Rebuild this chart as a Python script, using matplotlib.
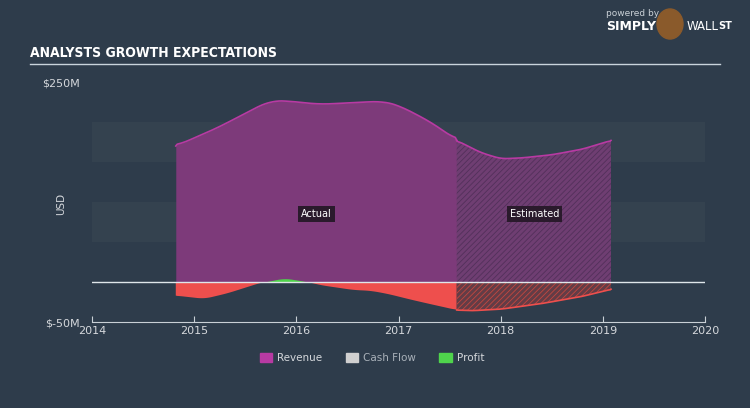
import matplotlib.pyplot as plt
from matplotlib.patches import Patch, Ellipse
import numpy as np

# revenue, USD millions (actual up to mid-2017, then analyst estimates)
rev_years = [2014.82, 2015.0, 2015.25, 2015.5, 2015.75, 2015.94, 2016.23, 2016.52,
             2016.85, 2017.0, 2017.33, 2017.57]
rev_vals = [170, 180, 194, 211, 227, 226, 222, 224, 226, 221, 199, 177]
rev_est_years = [2017.57, 2017.8, 2018.0, 2018.2, 2018.5, 2018.8, 2019.08]
rev_est_vals = [177, 162, 154, 155, 159, 166, 177]

# profit, USD millions
prof_years = [2014.82, 2015.1, 2015.33, 2015.65, 2015.88, 2016.08, 2016.24, 2016.4,
              2016.56, 2016.73, 2016.9, 2017.12, 2017.29, 2017.57]
prof_vals = [-17, -21, -14, -1, 5, 1, -4, -7, -10, -11, -15, -22, -27, -35]
prof_est_years = [2017.57, 2017.7, 2018.0, 2018.4, 2018.8, 2019.08]
prof_est_vals = [-35, -36, -34, -27, -18, -9]

bg = '#2e3c4b'
band = '#34424f'
purple = '#7d3a7a'
magenta = '#b83aa3'
red = '#ee4f4d'
green = '#4fd44c'
txt = '#d5d8dc'


def smooth(xs, ys, k=9, n=200):
    xs = np.array(xs, float)
    ys = np.array(ys, float)
    t = np.linspace(xs[0], xs[-1], n)
    y = np.interp(t, xs, ys)
    pad = np.pad(y, k, mode='edge')
    y = np.convolve(pad, np.ones(2 * k + 1) / (2 * k + 1), mode='same')[k:-k]
    y[0], y[-1] = ys[0], ys[-1]
    return t, y


plt.rcParams['hatch.linewidth'] = 0.6

fig = plt.figure(figsize=(7.5, 4.08), dpi=100, facecolor=bg)
ax = fig.add_axes([92 / 750, 1 - 322 / 408, 613 / 750, 240 / 408])
ax.set_facecolor(bg)
ax.set_xlim(2014, 2020)
ax.set_ylim(-50, 250)

for lo, hi in [(50, 100), (150, 200)]:
    ax.axhspan(lo, hi, color=band, zorder=0, lw=0)

# revenue actual
rx, ry = smooth(rev_years, rev_vals)
ax.fill_between(rx, 0, ry, color=purple, lw=0, zorder=2)
ax.plot(rx, ry, color=magenta, lw=1.2, zorder=3)

# revenue estimate (hatched)
ex, ey = smooth(rev_est_years, rev_est_vals)
ax.fill_between(ex, 0, ey, facecolor='#6f3e72', edgecolor='#52305a', hatch='//////', lw=0, zorder=2)
ax.plot(ex, ey, color=magenta, lw=1.2, zorder=3)

# profit actual
px_, py_ = smooth(prof_years, prof_vals, k=5)
ax.fill_between(px_, 0, py_, where=py_ <= 0, interpolate=True, color=red, lw=0, zorder=2)
ax.fill_between(px_, 0, py_, where=py_ >= 0, interpolate=True, color=green, lw=0, zorder=2)

# profit estimate (hatched)
qx, qy = smooth(prof_est_years, prof_est_vals)
ax.fill_between(qx, 0, qy, facecolor='#633c46', edgecolor='#c4473f', hatch='//////', lw=0, zorder=2)
ax.plot(qx, qy, color=red, lw=1.2, zorder=3)

ax.axhline(0, color='#dfe6ea', lw=1, zorder=4)

ax.text(2016.2, 85, 'Actual', color='white', fontsize=7, ha='center', va='center', zorder=5,
        bbox=dict(boxstyle='square,pad=0.3', fc='#2a1a2c', ec='none'))
ax.text(2018.33, 85, 'Estimated', color='white', fontsize=7, ha='center', va='center', zorder=5,
        bbox=dict(boxstyle='square,pad=0.3', fc='#2a1a2c', ec='none'))

for s in ['top', 'right', 'left']:
    ax.spines[s].set_visible(False)
ax.spines['bottom'].set_color('#c9d0d6')
ax.set_xticks(range(2014, 2021))
ax.tick_params(axis='x', colors='#c9d0d6', labelcolor=txt, labelsize=8, direction='in', length=4, pad=3)
ax.set_yticks([-50, 250])
ax.set_yticklabels(['$-50M', '$250M'])
ax.tick_params(axis='y', length=0, labelcolor=txt, labelsize=8, pad=9)
ax.set_ylabel('USD', color=txt, fontsize=7.5)
ax.yaxis.set_label_coords(-0.042, 0.49)

fig.text(30 / 750, 1 - 53 / 408, 'ANALYSTS GROWTH EXPECTATIONS', color='white', fontsize=10,
         fontweight='bold', family='DejaVu Sans', fontstretch='condensed', va='center')
fig.add_artist(plt.Line2D([30 / 750, 720 / 750], [1 - 64 / 408] * 2, color='#c9d4dc', lw=1))

# logo text
fig.text(606 / 750, 1 - 14 / 408, 'powered by', color='#c9d0d6', fontsize=6.5, va='center')
fig.text(606 / 750, 1 - 27 / 408, 'SIMPLY', color='white', fontsize=9, fontweight='bold', va='center')
fig.add_artist(Ellipse((670 / 750, 1 - 24 / 408), 26 / 750, 30 / 408, color='#8a5a2b'))
fig.text(687 / 750, 1 - 27 / 408, 'WALL', color='white', fontsize=8.5, va='center')
fig.text(718 / 750, 1 - 26 / 408, 'ST', color='white', fontsize=7, fontweight='bold', va='center')

handles = [Patch(color=magenta, label='Revenue'),
           Patch(color='#d0d0d0', label='Cash Flow'),
           Patch(color=green, label='Profit')]
leg = fig.legend(handles=handles, loc='center', bbox_to_anchor=(372 / 750, 1 - 358 / 408), ncol=3,
                 frameon=False, fontsize=7.5, handlelength=1.2, handleheight=0.9, columnspacing=2.2,
                 handletextpad=0.5)
for t in leg.get_texts():
    t.set_color(txt)
leg.get_texts()[1].set_color('#a9b1b9')

fig.savefig('out.png', dpi=100, facecolor=bg)
